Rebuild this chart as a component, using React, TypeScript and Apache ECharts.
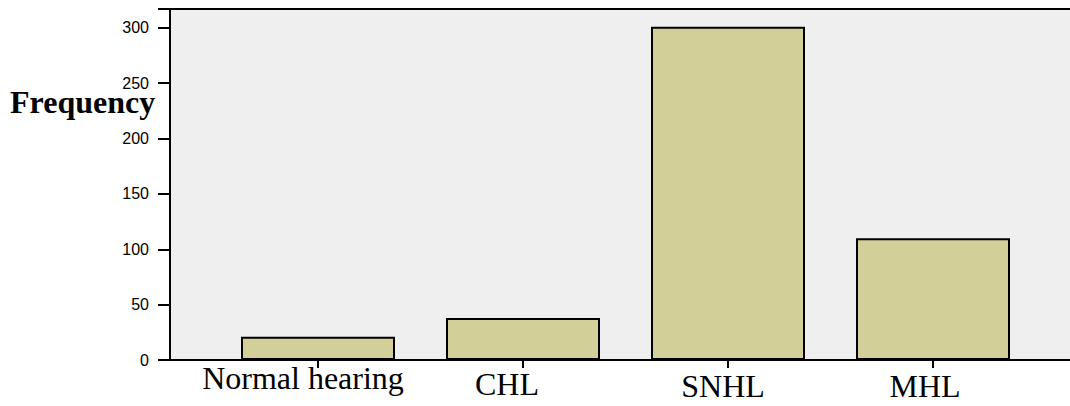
import React, { useEffect, useRef } from "react";
import * as echarts from "echarts";

const categories = ["Normal hearing", "CHL", "SNHL", "MHL"];
const frequencies = [21, 38, 301, 110];
const yTicks = [0, 50, 100, 150, 200, 250, 300];
const yMax = 317;

export default function App() {
  const ref = useRef<HTMLDivElement>(null);
  useEffect(() => {
    if (!ref.current) return;
    const chart = echarts.init(ref.current, null, { renderer: "svg" });
    const labelPads = [
      [0, 30, 0, 0],
      [12, 32, 0, 0],
      [15, 10, 0, 0],
      [16, 16, 0, 0],
    ];
    const rich: any = {};
    labelPads.forEach((p, i) => {
      rich["l" + i] = {
        padding: p,
        fontFamily: "Liberation Serif",
        fontSize: 32,
        lineHeight: 32,
        color: "#000",
      };
    });
    chart.setOption({
      animation: false,
      title: {
        text: "Frequency",
        left: 10,
        top: 86,
        padding: 0,
        textStyle: {
          fontFamily: "Liberation Serif",
          fontWeight: "bold",
          fontSize: 32,
          color: "#000",
        },
      },
      grid: [
        { left: 170, right: 0, top: 9, bottom: 46, show: true, backgroundColor: "#efefef", borderWidth: 0 },
        { left: 215.5, right: 34.5, top: 9, bottom: 46 },
      ],
      xAxis: [
        {
          gridIndex: 0,
          type: "value",
          min: 0,
          max: 1,
          position: "bottom",
          axisLine: { show: true, onZero: false, lineStyle: { color: "#000", width: 2 } },
          axisTick: { show: false },
          axisLabel: { show: false },
          splitLine: { show: false },
        },
        {
          gridIndex: 0,
          type: "value",
          min: 0,
          max: 1,
          position: "top",
          axisLine: { show: true, onZero: false, lineStyle: { color: "#000", width: 2 } },
          axisTick: { show: false },
          axisLabel: { show: false },
          splitLine: { show: false },
        },
        {
          gridIndex: 1,
          type: "category",
          data: categories,
          axisLine: { show: false, onZero: false },
          axisTick: { show: true, alignWithLabel: true, length: 8, lineStyle: { color: "#000", width: 2 } },
          axisLabel: {
            margin: 2,
            formatter: (v: string, i: number) => `{l${i}|${v}}`,
            rich,
          },
        },
      ],
      yAxis: [
        {
          gridIndex: 0,
          type: "value",
          min: 0,
          max: yMax,
          interval: 50,
          axisLine: { show: true, lineStyle: { color: "#000", width: 2 } },
          axisTick: { show: true, length: 12, lineStyle: { color: "#000", width: 2 } },
          axisLabel: {
            margin: 21,
            fontFamily: "Liberation Sans",
            fontSize: 16,
            color: "#000",
            formatter: (v: number) => (yTicks.includes(v) ? String(v) : ""),
          },
          splitLine: { show: false },
        },
        {
          gridIndex: 1,
          type: "value",
          min: 0,
          max: yMax,
          show: false,
          splitLine: { show: false },
        },
      ],
      series: [
        {
          type: "bar",
          xAxisIndex: 2,
          yAxisIndex: 1,
          data: frequencies,
          barWidth: 154,
          itemStyle: { color: "#d3cf99", borderColor: "#000", borderWidth: 2 },
        },
      ],
    });
    return () => chart.dispose();
  }, []);
  return (
    <div
      ref={ref}
      style={{ position: "fixed", left: 0, top: 0, width: 1070, height: 406, background: "#fff" }}
    />
  );
}
